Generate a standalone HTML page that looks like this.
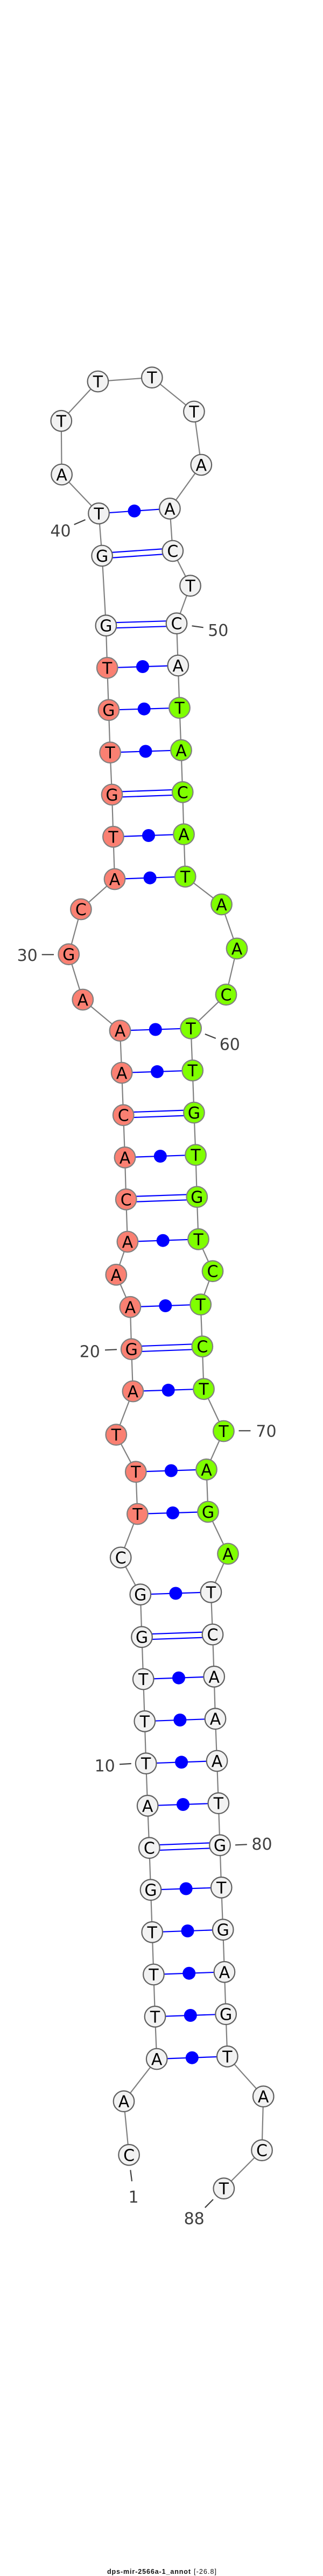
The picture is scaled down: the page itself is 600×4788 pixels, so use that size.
<!DOCTYPE html>
<html><head><meta charset="utf-8"><style>
html,body{margin:0;padding:0;background:#fff;width:600px;height:4788px;overflow:hidden}
svg{display:block}
.b{fill:none;stroke:#808080;stroke-width:2.2}
.p{stroke:#0000ff;stroke-width:2.2}
.d{fill:#0000ff}
.g{fill:#f2f2f2;stroke:#606060;stroke-width:2.2}
.r{fill:#fa8072;stroke:#808080;stroke-width:2.2}
.v{fill:#7fff00;stroke:#808080;stroke-width:2.2}
.t{stroke:#404040;stroke-width:2.2}
text{font-family:"DejaVu Sans","Liberation Sans",sans-serif}
.n text,text.n{font-size:30px;text-anchor:middle;fill:#000}
text.l{font-size:30px;text-anchor:middle;fill:#404040}
text.f{font-family:"Liberation Sans",sans-serif;font-size:12.5px;fill:#111}
</style></head><body>
<svg xmlns="http://www.w3.org/2000/svg" width="600" height="4788" viewBox="0 0 600 4788">
<polyline class="b" points="239.6,4005.3 230,3905.7 291.2,3827 288,3748.3 285.4,3670 282.7,3591.3 280,3512.7 277.3,3434.7 274.2,3356.3 271.2,3277.7 268.8,3199.3 266.2,3121 263.5,3042.7 260.8,2963.7 224.2,2895 255.4,2814 252.3,2735.7 215.8,2666.7 246.9,2586 244.2,2507.7 241.9,2429.3 215.8,2369.3 236.9,2308 234.2,2229.3 232,2151.3 229.2,2072.7 226.2,1994 223,1915.7 153.8,1858 127.7,1773.7 150.4,1690 213,1634 210.4,1555.3 208,1477 204.6,1398.7 201.9,1319.7 199.2,1241.3 196.9,1162.7 189.6,1033 183.5,954.3 114.6,882 113.8,782.3 181.9,709 282.3,701.7 360.4,765 373.8,864 315.4,945.3 320.8,1024 353.5,1088.7 328,1158.7 330.8,1237 333.5,1315.7 336.5,1394.3 339.2,1472.3 341.5,1550.7 344.2,1629.3 411.5,1681 440,1763 420,1848.7 354.6,1911.3 357.7,1989.7 360.4,2068 363.5,2146.7 365.8,2224.7 368.5,2303.3 395,2362.7 372.7,2424.7 375.8,2502.7 378.5,2581.7 415.4,2660 383.5,2731.3 386.5,2810 423.5,2888 391.9,2959.3 395,3038 397.7,3116.3 400,3194.7 403,3273 405.8,3351.7 408.5,3429.7 411.2,3508.3 414.2,3586.7 416.9,3665.3 419.6,3743.7 422.3,3822.3 489.2,3896.7 486.5,3996.7 415.8,4067.7"/>
<g class="p">
<line x1="183.5" y1="954.3" x2="315.4" y2="945.3"/>
<line x1="189.6" y1="1028" x2="320.8" y2="1019"/><line x1="189.6" y1="1038" x2="320.8" y2="1029"/>
<line x1="196.9" y1="1157.7" x2="328" y2="1153.7"/><line x1="196.9" y1="1167.7" x2="328" y2="1163.7"/>
<line x1="199.2" y1="1241.3" x2="330.8" y2="1237"/>
<line x1="201.9" y1="1319.7" x2="333.5" y2="1315.7"/>
<line x1="204.6" y1="1398.7" x2="336.5" y2="1394.3"/>
<line x1="208" y1="1472" x2="339.2" y2="1467.3"/><line x1="208" y1="1482" x2="339.2" y2="1477.3"/>
<line x1="210.4" y1="1555.3" x2="341.5" y2="1550.7"/>
<line x1="213" y1="1634" x2="344.2" y2="1629.3"/>
<line x1="223" y1="1915.7" x2="354.6" y2="1911.3"/>
<line x1="226.2" y1="1994" x2="357.7" y2="1989.7"/>
<line x1="229.2" y1="2067.7" x2="360.4" y2="2063"/><line x1="229.2" y1="2077.7" x2="360.4" y2="2073"/>
<line x1="232" y1="2151.3" x2="363.5" y2="2146.7"/>
<line x1="234.2" y1="2224.3" x2="365.8" y2="2219.7"/><line x1="234.2" y1="2234.3" x2="365.8" y2="2229.7"/>
<line x1="236.9" y1="2308" x2="368.5" y2="2303.3"/>
<line x1="241.9" y1="2429.3" x2="372.7" y2="2424.7"/>
<line x1="244.2" y1="2502.7" x2="375.8" y2="2497.7"/><line x1="244.2" y1="2512.7" x2="375.8" y2="2507.7"/>
<line x1="246.9" y1="2586" x2="378.5" y2="2581.7"/>
<line x1="252.3" y1="2735.7" x2="383.5" y2="2731.3"/>
<line x1="255.4" y1="2814" x2="386.5" y2="2810"/>
<line x1="260.8" y1="2963.7" x2="391.9" y2="2959.3"/>
<line x1="263.5" y1="3037.7" x2="395" y2="3033"/><line x1="263.5" y1="3047.7" x2="395" y2="3043"/>
<line x1="266.2" y1="3121" x2="397.7" y2="3116.3"/>
<line x1="268.8" y1="3199.3" x2="400" y2="3194.7"/>
<line x1="271.2" y1="3277.7" x2="403" y2="3273"/>
<line x1="274.2" y1="3356.3" x2="405.8" y2="3351.7"/>
<line x1="277.3" y1="3429.7" x2="408.5" y2="3424.7"/><line x1="277.3" y1="3439.7" x2="408.5" y2="3434.7"/>
<line x1="280" y1="3512.7" x2="411.2" y2="3508.3"/>
<line x1="282.7" y1="3591.3" x2="414.2" y2="3586.7"/>
<line x1="285.4" y1="3670" x2="416.9" y2="3665.3"/>
<line x1="288" y1="3748.3" x2="419.6" y2="3743.7"/>
<line x1="291.2" y1="3827" x2="422.3" y2="3822.3"/>
</g>
<g class="d">
<circle cx="249.5" cy="949.8" r="12"/><circle cx="265" cy="1239" r="12"/><circle cx="267.7" cy="1317.7" r="12"/><circle cx="270.5" cy="1396.5" r="12"/><circle cx="276" cy="1553" r="12"/><circle cx="278.6" cy="1631.7" r="12"/><circle cx="288.8" cy="1913.5" r="12"/><circle cx="292" cy="1991.9" r="12"/><circle cx="297.8" cy="2149" r="12"/><circle cx="302.7" cy="2305.7" r="12"/><circle cx="307.3" cy="2427" r="12"/><circle cx="312.7" cy="2583.9" r="12"/><circle cx="317.9" cy="2733.5" r="12"/><circle cx="321" cy="2812" r="12"/><circle cx="326.4" cy="2961.5" r="12"/><circle cx="332" cy="3118.7" r="12"/><circle cx="334.4" cy="3197" r="12"/><circle cx="337.1" cy="3275.4" r="12"/><circle cx="340" cy="3354" r="12"/><circle cx="345.6" cy="3510.5" r="12"/><circle cx="348.5" cy="3589" r="12"/><circle cx="351.2" cy="3667.7" r="12"/><circle cx="353.8" cy="3746" r="12"/><circle cx="356.8" cy="3824.7" r="12"/>
</g>
<g class="g" r="19.3">
<circle cx="239.6" cy="4005.3" r="19.3"/><circle cx="230" cy="3905.7" r="19.3"/><circle cx="291.2" cy="3827" r="19.3"/><circle cx="288" cy="3748.3" r="19.3"/><circle cx="285.4" cy="3670" r="19.3"/><circle cx="282.7" cy="3591.3" r="19.3"/><circle cx="280" cy="3512.7" r="19.3"/><circle cx="277.3" cy="3434.7" r="19.3"/><circle cx="274.2" cy="3356.3" r="19.3"/><circle cx="271.2" cy="3277.7" r="19.3"/><circle cx="268.8" cy="3199.3" r="19.3"/><circle cx="266.2" cy="3121" r="19.3"/><circle cx="263.5" cy="3042.7" r="19.3"/><circle cx="260.8" cy="2963.7" r="19.3"/><circle cx="224.2" cy="2895" r="19.3"/>
<circle cx="196.9" cy="1162.7" r="19.3"/><circle cx="189.6" cy="1033" r="19.3"/><circle cx="183.5" cy="954.3" r="19.3"/><circle cx="114.6" cy="882" r="19.3"/><circle cx="113.8" cy="782.3" r="19.3"/><circle cx="181.9" cy="709" r="19.3"/><circle cx="282.3" cy="701.7" r="19.3"/><circle cx="360.4" cy="765" r="19.3"/><circle cx="373.8" cy="864" r="19.3"/><circle cx="315.4" cy="945.3" r="19.3"/><circle cx="320.8" cy="1024" r="19.3"/><circle cx="353.5" cy="1088.7" r="19.3"/><circle cx="328" cy="1158.7" r="19.3"/><circle cx="330.8" cy="1237" r="19.3"/>
<circle cx="391.9" cy="2959.3" r="19.3"/><circle cx="395" cy="3038" r="19.3"/><circle cx="397.7" cy="3116.3" r="19.3"/><circle cx="400" cy="3194.7" r="19.3"/><circle cx="403" cy="3273" r="19.3"/><circle cx="405.8" cy="3351.7" r="19.3"/><circle cx="408.5" cy="3429.7" r="19.3"/><circle cx="411.2" cy="3508.3" r="19.3"/><circle cx="414.2" cy="3586.7" r="19.3"/><circle cx="416.9" cy="3665.3" r="19.3"/><circle cx="419.6" cy="3743.7" r="19.3"/><circle cx="422.3" cy="3822.3" r="19.3"/><circle cx="489.2" cy="3896.7" r="19.3"/><circle cx="486.5" cy="3996.7" r="19.3"/><circle cx="415.8" cy="4067.7" r="19.3"/>
</g>
<g class="r">
<circle cx="255.4" cy="2814" r="19.3"/><circle cx="252.3" cy="2735.7" r="19.3"/><circle cx="215.8" cy="2666.7" r="19.3"/><circle cx="246.9" cy="2586" r="19.3"/><circle cx="244.2" cy="2507.7" r="19.3"/><circle cx="241.9" cy="2429.3" r="19.3"/><circle cx="215.8" cy="2369.3" r="19.3"/><circle cx="236.9" cy="2308" r="19.3"/><circle cx="234.2" cy="2229.3" r="19.3"/><circle cx="232" cy="2151.3" r="19.3"/><circle cx="229.2" cy="2072.7" r="19.3"/><circle cx="226.2" cy="1994" r="19.3"/><circle cx="223" cy="1915.7" r="19.3"/><circle cx="153.8" cy="1858" r="19.3"/><circle cx="127.7" cy="1773.7" r="19.3"/><circle cx="150.4" cy="1690" r="19.3"/><circle cx="213" cy="1634" r="19.3"/><circle cx="210.4" cy="1555.3" r="19.3"/><circle cx="208" cy="1477" r="19.3"/><circle cx="204.6" cy="1398.7" r="19.3"/><circle cx="201.9" cy="1319.7" r="19.3"/><circle cx="199.2" cy="1241.3" r="19.3"/>
</g>
<g class="v">
<circle cx="333.5" cy="1315.7" r="19.3"/><circle cx="336.5" cy="1394.3" r="19.3"/><circle cx="339.2" cy="1472.3" r="19.3"/><circle cx="341.5" cy="1550.7" r="19.3"/><circle cx="344.2" cy="1629.3" r="19.3"/><circle cx="411.5" cy="1681" r="19.3"/><circle cx="440" cy="1763" r="19.3"/><circle cx="420" cy="1848.7" r="19.3"/><circle cx="354.6" cy="1911.3" r="19.3"/><circle cx="357.7" cy="1989.7" r="19.3"/><circle cx="360.4" cy="2068" r="19.3"/><circle cx="363.5" cy="2146.7" r="19.3"/><circle cx="365.8" cy="2224.7" r="19.3"/><circle cx="368.5" cy="2303.3" r="19.3"/><circle cx="395" cy="2362.7" r="19.3"/><circle cx="372.7" cy="2424.7" r="19.3"/><circle cx="375.8" cy="2502.7" r="19.3"/><circle cx="378.5" cy="2581.7" r="19.3"/><circle cx="415.4" cy="2660" r="19.3"/><circle cx="383.5" cy="2731.3" r="19.3"/><circle cx="386.5" cy="2810" r="19.3"/><circle cx="423.5" cy="2888" r="19.3"/>
</g>
<g class="n">
<text x="239.6" y="4016.3">C</text><text x="230" y="3916.7">A</text><text x="291.2" y="3838">A</text><text x="288" y="3759.3">T</text><text x="285.4" y="3681">T</text><text x="282.7" y="3602.3">T</text><text x="280" y="3523.7">G</text><text x="277.3" y="3445.7">C</text><text x="274.2" y="3367.3">A</text><text x="271.2" y="3288.7">T</text><text x="268.8" y="3210.3">T</text><text x="266.2" y="3132">T</text><text x="263.5" y="3053.7">G</text><text x="260.8" y="2974.7">G</text><text x="224.2" y="2906">C</text><text x="255.4" y="2825">T</text><text x="252.3" y="2746.7">T</text><text x="215.8" y="2677.7">T</text><text x="246.9" y="2597">A</text><text x="244.2" y="2518.7">G</text><text x="241.9" y="2440.3">A</text><text x="215.8" y="2380.3">A</text><text x="236.9" y="2319">A</text><text x="234.2" y="2240.3">C</text><text x="232" y="2162.3">A</text><text x="229.2" y="2083.7">C</text><text x="226.2" y="2005">A</text><text x="223" y="1926.7">A</text><text x="153.8" y="1869">A</text><text x="127.7" y="1784.7">G</text><text x="150.4" y="1701">C</text><text x="213" y="1645">A</text><text x="210.4" y="1566.3">T</text><text x="208" y="1488">G</text><text x="204.6" y="1409.7">T</text><text x="201.9" y="1330.7">G</text><text x="199.2" y="1252.3">T</text><text x="196.9" y="1173.7">G</text><text x="189.6" y="1044">G</text><text x="183.5" y="965.3">T</text><text x="114.6" y="893">A</text><text x="113.8" y="793.3">T</text><text x="181.9" y="720">T</text><text x="282.3" y="712.7">T</text><text x="360.4" y="776">T</text><text x="373.8" y="875">A</text><text x="315.4" y="956.3">A</text><text x="320.8" y="1035">C</text><text x="353.5" y="1099.7">T</text><text x="328" y="1169.7">C</text><text x="330.8" y="1248">A</text><text x="333.5" y="1326.7">T</text><text x="336.5" y="1405.3">A</text><text x="339.2" y="1483.3">C</text><text x="341.5" y="1561.7">A</text><text x="344.2" y="1640.3">T</text><text x="411.5" y="1692">A</text><text x="440" y="1774">A</text><text x="420" y="1859.7">C</text><text x="354.6" y="1922.3">T</text><text x="357.7" y="2000.7">T</text><text x="360.4" y="2079">G</text><text x="363.5" y="2157.7">T</text><text x="365.8" y="2235.7">G</text><text x="368.5" y="2314.3">T</text><text x="395" y="2373.7">C</text><text x="372.7" y="2435.7">T</text><text x="375.8" y="2513.7">C</text><text x="378.5" y="2592.7">T</text><text x="415.4" y="2671">T</text><text x="383.5" y="2742.3">A</text><text x="386.5" y="2821">G</text><text x="423.5" y="2899">A</text><text x="391.9" y="2970.3">T</text><text x="395" y="3049">C</text><text x="397.7" y="3127.3">A</text><text x="400" y="3205.7">A</text><text x="403" y="3284">A</text><text x="405.8" y="3362.7">T</text><text x="408.5" y="3440.7">G</text><text x="411.2" y="3519.3">T</text><text x="414.2" y="3597.7">G</text><text x="416.9" y="3676.3">A</text><text x="419.6" y="3754.7">G</text><text x="422.3" y="3833.3">T</text><text x="489.2" y="3907.7">A</text><text x="486.5" y="4007.7">C</text><text x="415.8" y="4078.7">T</text>
</g>
<g class="t">
<line x1="158.5" y1="966" x2="137.7" y2="975"/>
<line x1="356.5" y1="1163.3" x2="377.7" y2="1166.3"/>
<line x1="77.7" y1="1774.3" x2="100" y2="1774.3"/>
<line x1="380.8" y1="1922" x2="400.8" y2="1930"/>
<line x1="195" y1="2509.3" x2="217" y2="2508.3"/>
<line x1="443.5" y1="2659.3" x2="465.4" y2="2659.3"/>
<line x1="222" y1="3279.3" x2="243.8" y2="3278"/>
<line x1="437" y1="3429.3" x2="458.8" y2="3428.3"/>
<line x1="242.3" y1="4033.3" x2="245" y2="4054.3"/>
<line x1="396" y1="4088" x2="380.8" y2="4103.3"/>
</g>
<text class="l" x="112.5" y="997">40</text>
<text class="l" x="405.3" y="1182">50</text>
<text class="l" x="50.7" y="1786">30</text>
<text class="l" x="426.8" y="1951.5">60</text>
<text class="l" x="166.8" y="2522.5">20</text>
<text class="l" x="494.5" y="2670.5">70</text>
<text class="l" x="194.7" y="3292.5">10</text>
<text class="l" x="486.5" y="3438">80</text>
<text class="l" x="248" y="4094">1</text>
<text class="l" x="360.7" y="4134">88</text>
<text class="f" x="199" y="4784" font-weight="bold" textLength="155" lengthAdjust="spacing" style="font-weight:bold">dps-mir-2566a-1_annot</text>
<text class="f" x="360" y="4784" textLength="42" lengthAdjust="spacing">[-26.8]</text>
</svg>
</body></html>
